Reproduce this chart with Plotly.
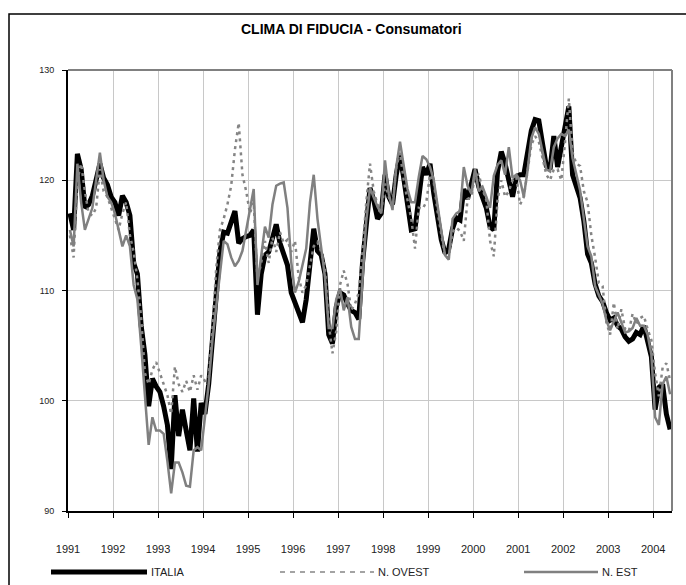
import plotly.graph_objects as go

# monthly values, Jan 1991 .. May 2004 (161 months)
italia = [
    117, 115.5, 122.4, 121.0, 117.5, 117.8, 118.6, 120, 121.5, 120.2, 119.6, 118.5,
    118, 116.8, 118.6, 118, 116.8, 112.5, 111.5, 106.8, 104.2, 99.5, 102, 101.3,
    100.8, 99.5, 97.8, 93.8, 100.5, 96.8, 99.2, 97.3, 95.5, 100.2, 95.4, 99.8,
    98.8, 101.5, 105.5, 108.8, 113.5, 115.3, 115.2, 116.2, 117.2, 114.3, 114.7, 114.9,
    115, 115.5, 107.8, 111.5, 113.2, 113.5, 114.6, 116, 114.3, 113.2, 112.3, 109.8,
    108.8, 107.8, 107.1, 109.2, 113, 115.6, 113.6, 113.2, 111.5, 106, 105.2, 108.5,
    109.8, 109.6, 108.8, 108.2, 108, 107.4, 112.5, 116.5, 119.3, 118.2, 116.5, 117,
    120.5, 118.5, 117.8, 120.5, 122.3, 120.2, 117.8, 115.5, 115.6, 118.8, 121.2, 120.5,
    121.5, 118.8, 116.6, 114.6, 113.4, 113.8, 115.6, 116.6, 116.4, 119.2, 118.3, 119.5,
    121, 119.4, 118.5, 117.5, 115.8, 115.5, 120.8, 122.6, 121.5, 120, 118.5, 120.3,
    120.5, 120.5, 122.4, 124.5, 125.5, 125.4, 123.3, 121.3, 121, 124, 121.2, 123,
    124.5, 126.7, 120.5, 119.4, 118.4, 116.3, 113.3, 112.5, 110.6, 109.5, 109, 108,
    107.3, 107.5, 106.8, 106.5, 105.8, 105.4, 105.6, 106.2, 106, 106.8, 105.5, 104,
    99.2, 101.2, 101.5, 98.8, 97.4,
]

n_ovest = [
    115, 113, 120, 121.5, 119, 117, 116.8, 117.5, 121, 119, 118.5, 117.5,
    116.5, 115.5, 117, 118, 115, 113.5, 111, 107.5, 102.5, 101.5, 102.8, 103.5,
    102.5, 101.5, 100.5, 98.8, 103.1, 101.5, 100.8, 101.8, 100.8, 102.3, 101, 102.3,
    101.8, 102, 106.5, 112, 115.5, 116.5, 117.8, 119.5, 122.8, 125.2, 120.5, 119,
    117, 118, 111, 112.5, 114.5, 112.5, 114.8, 113.5, 115.3, 114.3, 114.6, 113.5,
    114.5, 111.2, 109.8, 110.5, 112.2, 114, 114.4, 113.5, 112, 107, 104.3, 106.3,
    110.5, 111.8, 110.6, 108.2, 108.8, 109.8, 113.5, 118, 121.5, 119, 117.8, 117.2,
    119.7, 118.5, 117.6, 121.2, 122.5, 120, 118.2, 116.5, 113.8, 117.5, 117.4, 118,
    120.5, 119.8, 117.2, 115.2, 113, 113, 115.3, 115.7, 115.4, 114.5, 118.3, 118.5,
    120.5, 120.5, 119.2, 118.2, 114.5, 113.1, 118.2, 120, 118.5, 119, 120, 120.3,
    117.8, 118.5, 121, 123.2, 124, 123.5, 122, 120.5, 120, 121, 121, 120,
    123.5, 127.4, 122.5, 121.5, 121.3, 119, 118, 115, 113, 110.7, 110.4, 107.1,
    106, 108.9, 106.5, 108.3, 106.5, 106.3, 107.9, 107, 107.5, 107.7, 106.5, 105.5,
    102.5, 100.4, 103, 103.4, 101.8,
]

n_est = [
    115.5, 114, 121.5, 118, 115.5, 116.5, 117.5, 120, 122.5, 120, 118.5, 118,
    117, 115.5, 114, 115, 114, 110.5, 109.2, 105, 100.5, 96, 98.5, 97.3,
    97.3, 97, 94.5, 91.6, 94.4, 94.4, 93.5, 92.3, 92.2, 95.5, 95.8, 95.5,
    98.5, 101.5, 105.5, 108.5, 111, 114.5, 114.2, 113, 112.2, 112.7, 113.6, 115.4,
    117.4, 119.2, 110.5, 113, 115.8, 114.8, 117.8, 119.5, 119.7, 119.8, 117.5, 112.6,
    109.8, 110.8, 112.2, 113.8, 118, 120.5, 116.5, 113.8, 111.2, 106.6, 106.6, 109.2,
    110.2, 108.2, 109.4, 106.7, 105.6, 105.6, 111, 116.3, 119.3, 118.5, 117.6, 117,
    121.8, 118.8, 117.3, 121.2, 123.5, 121.3, 119.2, 118, 118, 120.3, 122.2, 121.9,
    121.2, 120, 117.8, 115.2, 113.2, 112.8, 116.5, 117, 117.2, 121.2, 119.5, 118.8,
    121, 119, 119.4, 118.5, 117.5, 120.4, 121.4, 121.8, 120.5, 123, 120.2, 120.5,
    120, 118.5, 120.9, 123.8, 124.8, 124.2, 122.5, 121, 120.8, 123, 123.8, 124.2,
    124, 124.6, 122, 120.5, 119.1, 116.5, 114, 113.1, 110.4, 109.6, 108.8, 107.3,
    106.4, 107.2, 108, 107.1, 106.2, 106.3, 106.6, 107.5, 106.8, 106.8, 106, 104.2,
    98.5, 97.8, 101.5, 102.2, 100.6,
]

years = [str(y) for y in range(1991, 2005)]
months = list(range(len(italia)))

W, H = 686, 585
L, R, T, B = 68, 672, 70, 511


def px(x):
    return (x - L) / (R - L)


def py(y):
    return (B - y) / (B - T)


fig = go.Figure()

fig.add_trace(go.Scatter(x=months, y=italia, name="ITALIA", mode="lines",
                         line=dict(color="black", width=5)))
fig.add_trace(go.Scatter(x=months, y=n_ovest, name="N. OVEST", mode="lines",
                         line=dict(color="#858585", width=2.5, dash="3px,4px")))
fig.add_trace(go.Scatter(x=months, y=n_est, name="N. EST", mode="lines",
                         line=dict(color="#808080", width=2.5)))

font = "Liberation Sans Narrow, Liberation Sans, Arial, sans-serif"

fig.update_layout(
    width=W, height=H,
    margin=dict(l=L, r=W - R, t=T, b=H - B),
    paper_bgcolor="white", plot_bgcolor="white",
    showlegend=False,
    font=dict(family=font, color="#222222"),
    xaxis=dict(
        range=[-0.5, len(italia) - 0.5],
        tickmode="array",
        tickvals=[-0.5 + 12 * k for k in range(len(years))],
        ticktext=years,
        ticks="outside", ticklen=5, tickcolor="black", tickwidth=1,
        tickfont=dict(size=11),
        ticklabelstandoff=22,
        showgrid=True, gridcolor="#c8c8c8", gridwidth=1,
        showline=True, linecolor="black", linewidth=2,
        zeroline=False,
    ),
    yaxis=dict(
        range=[90, 130],
        tickvals=[90, 100, 110, 120, 130],
        ticks="outside", ticklen=4, tickcolor="black", tickwidth=1,
        tickfont=dict(size=9),
        ticklabelstandoff=6,
        showgrid=True, gridcolor="#c8c8c8", gridwidth=1,
        showline=True, linecolor="black", linewidth=2,
        zeroline=False,
    ),
)

shapes = [
    # top and right border of the plot area (gray)
    dict(type="line", xref="paper", yref="paper", x0=0, x1=1, y0=1, y1=1,
         line=dict(color="#808080", width=2)),
    dict(type="line", xref="paper", yref="paper", x0=1, x1=1, y0=0, y1=1,
         line=dict(color="#808080", width=2)),
    # outer chart frame
    dict(type="rect", xref="paper", yref="paper",
         x0=px(9), x1=px(692), y0=py(592), y1=py(14),
         line=dict(color="black", width=1.5)),
    # legend keys
    dict(type="line", xref="paper", yref="paper", x0=px(51), x1=px(147),
         y0=py(572), y1=py(572), line=dict(color="black", width=5)),
    dict(type="line", xref="paper", yref="paper", x0=px(280), x1=px(374),
         y0=py(572), y1=py(572), line=dict(color="#858585", width=1.5, dash="5px,5px")),
    dict(type="line", xref="paper", yref="paper", x0=px(524), x1=px(598),
         y0=py(572), y1=py(572), line=dict(color="#808080", width=2.5)),
]
fig.update_layout(shapes=shapes)

fig.add_annotation(text="<b>CLIMA DI FIDUCIA - Consumatori</b>",
                   xref="paper", yref="paper", x=px(351), y=py(29),
                   xanchor="center", yanchor="middle",
                   showarrow=False, font=dict(size=14, color="black"))
for label, x0 in [("ITALIA", 149), ("N. OVEST", 376), ("N. EST", 600)]:
    fig.add_annotation(text=label, xref="paper", yref="paper", x=px(x0), y=py(572),
                       xanchor="left", yanchor="middle",
                       showarrow=False, font=dict(size=11))

# page body has an 8px default margin; drop it so the chart sits at 0,0
fig.write_html("out.html", config={"displayModeBar": False},
               post_script="document.body.style.margin='0';document.body.style.padding='0';")
